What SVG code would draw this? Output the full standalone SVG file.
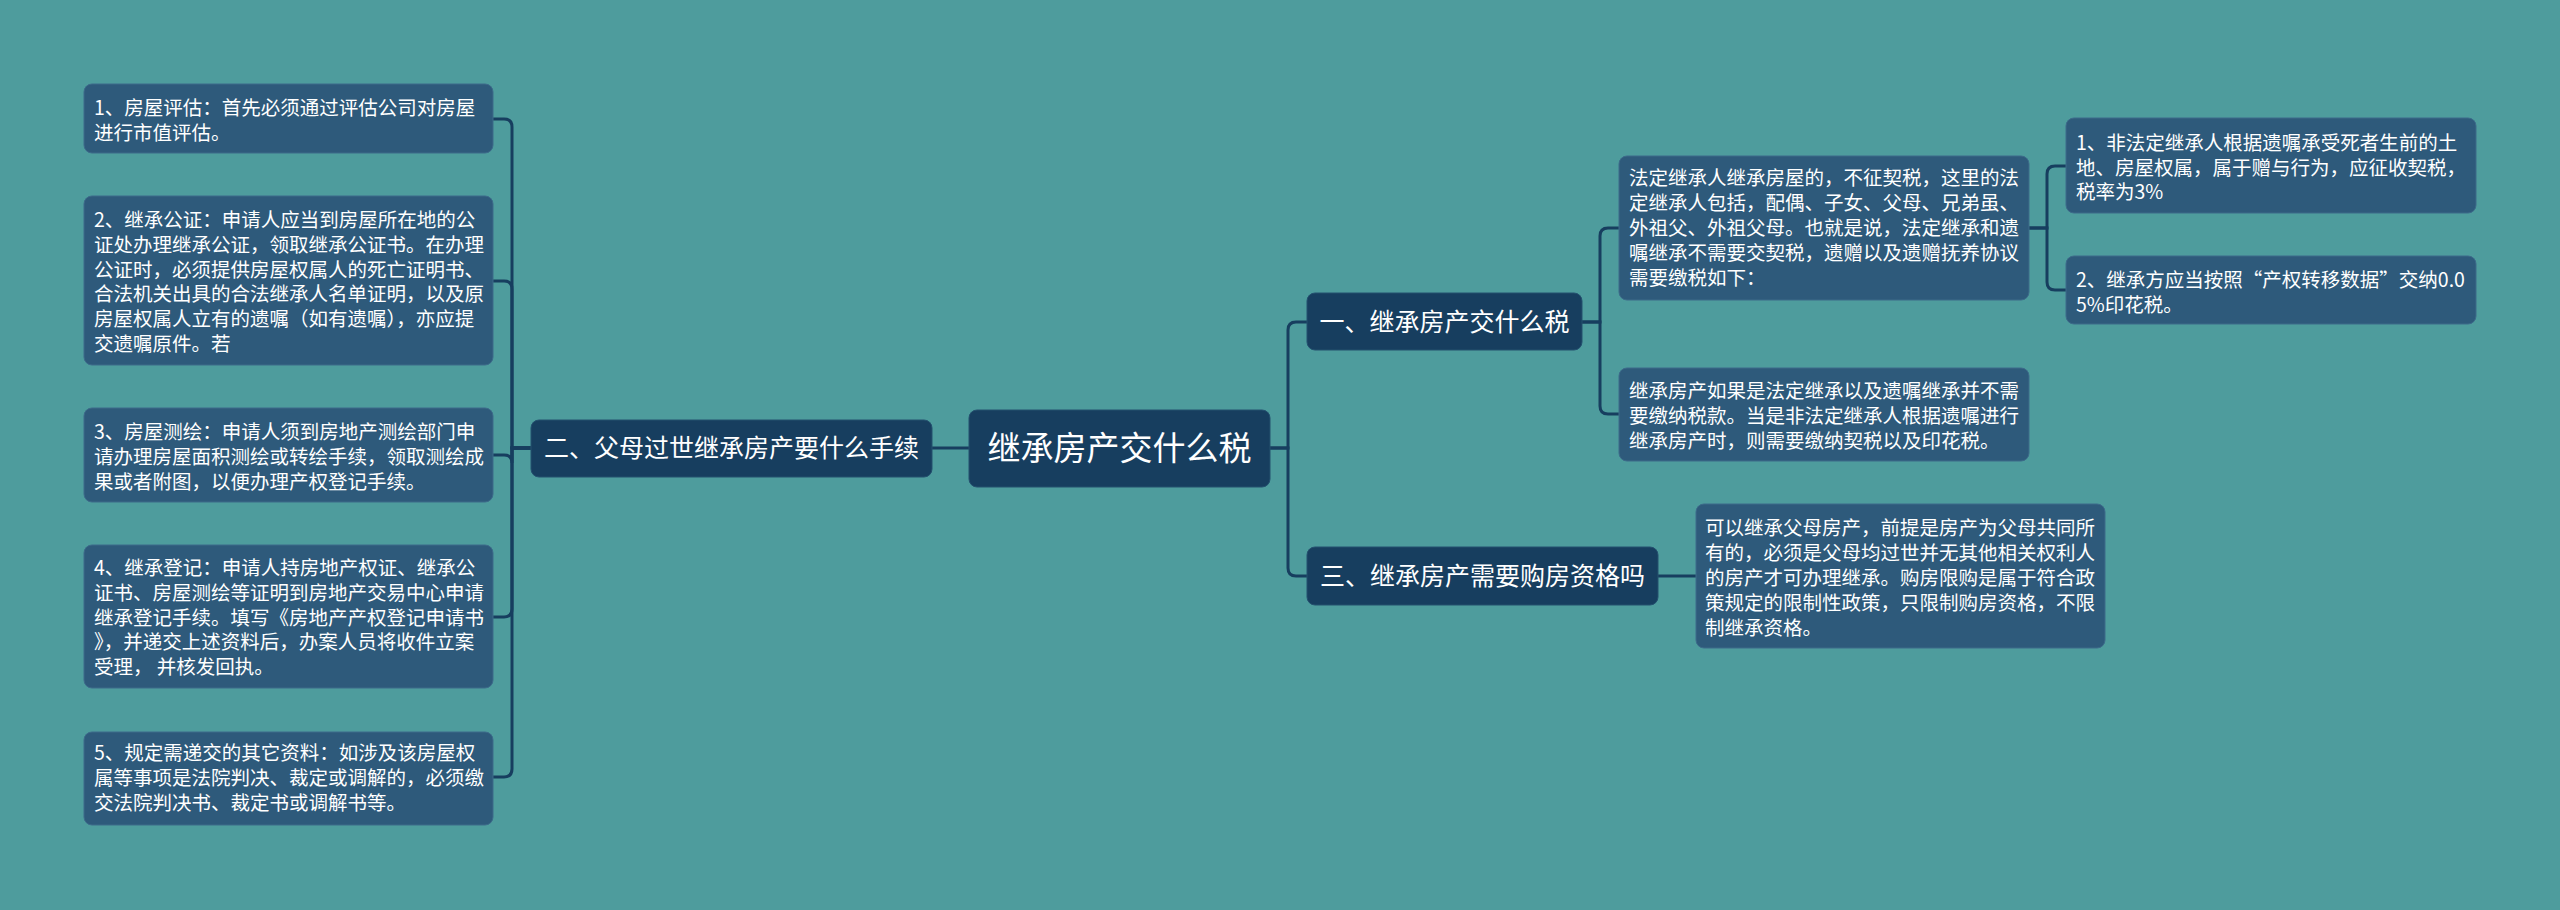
<svg xmlns="http://www.w3.org/2000/svg" width="2560" height="910" viewBox="0 0 2560 910">
<style>
.bg{fill:#4e9c9d}
.leaf{fill:#2e5a7b;stroke:#3d6a8a;stroke-width:1}
.br{fill:#173e5f;stroke:#24506f;stroke-width:1}
.lt{font-family:"Noto Sans CJK SC","Noto Sans",sans-serif;font-size:19.5px;fill:#ffffff}
.bt{font-family:"Noto Sans CJK SC","Noto Sans",sans-serif;font-size:25px;fill:#ffffff;text-anchor:middle}
.ct{font-family:"Noto Sans CJK SC","Noto Sans",sans-serif;font-size:33px;fill:#ffffff;text-anchor:middle}
.ln{fill:none;stroke:#173e5f;stroke-width:3}
</style>
<rect class="bg" x="0" y="0" width="2560" height="910"/>
<g id="connectors">
<path class="ln" d="M531 448 H512 V127 Q512 119 504 119 H493"/>
<path class="ln" d="M531 448 H512 V289 Q512 281 504 281 H493"/>
<path class="ln" d="M531 448 H512 V463 Q512 455 504 455 H493"/>
<path class="ln" d="M531 448 H512 V609 Q512 617 504 617 H493"/>
<path class="ln" d="M531 448 H512 V769 Q512 777 504 777 H493"/>
<path class="ln" d="M932 448 H969"/>
<path class="ln" d="M1270 448 H1288 V330 Q1288 322 1296 322 H1307"/>
<path class="ln" d="M1270 448 H1288 V568 Q1288 576 1296 576 H1307"/>
<path class="ln" d="M1582 322 H1600 V236 Q1600 228 1608 228 H1619"/>
<path class="ln" d="M1582 322 H1600 V406 Q1600 414 1608 414 H1619"/>
<path class="ln" d="M2029 228 H2047 V174 Q2047 166 2055 166 H2066"/>
<path class="ln" d="M2029 228 H2047 V282 Q2047 290 2055 290 H2066"/>
<path class="ln" d="M1658 576 H1696"/>
</g>
<g id="central">
<rect class="br" x="969" y="410" width="301" height="77" rx="8"/>
<text class="ct" x="1119.5" y="460">继承房产交什么税</text>
</g>
<g id="branch2">
<rect class="br" x="531" y="420" width="401" height="57" rx="8"/>
<text class="bt" x="731.5" y="457">二、父母过世继承房产要什么手续</text>
</g>
<g id="branch1">
<rect class="br" x="1307" y="293" width="275" height="57" rx="8"/>
<text class="bt" x="1444.5" y="331">一、继承房产交什么税</text>
</g>
<g id="branch3">
<rect class="br" x="1307" y="547" width="351" height="58" rx="8"/>
<text class="bt" x="1482.5" y="585">三、继承房产需要购房资格吗</text>
</g>
<g id="leaf-l1">
<rect class="leaf" x="84" y="84" width="409" height="69" rx="8"/>
<text class="lt" x="94" y="115"><tspan x="94">1、房屋评估：首先必须通过评估公司对房屋</tspan><tspan x="94" dy="25">进行市值评估。</tspan></text>
</g>
<g id="leaf-l2">
<rect class="leaf" x="84" y="196" width="409" height="169" rx="8"/>
<text class="lt" x="94" y="227"><tspan x="94">2、继承公证：申请人应当到房屋所在地的公</tspan><tspan x="94" dy="24.8">证处办理继承公证，领取继承公证书。在办理</tspan><tspan x="94" dy="24.8">公证时，必须提供房屋权属人的死亡证明书、</tspan><tspan x="94" dy="24.8">合法机关出具的合法继承人名单证明，以及原</tspan><tspan x="94" dy="24.8">房屋权属人立有的遗嘱（如有遗嘱），亦应提</tspan><tspan x="94" dy="24.8">交遗嘱原件。若</tspan></text>
</g>
<g id="leaf-l3">
<rect class="leaf" x="84" y="408" width="409" height="94" rx="8"/>
<text class="lt" x="94" y="439"><tspan x="94">3、房屋测绘：申请人须到房地产测绘部门申</tspan><tspan x="94" dy="24.8">请办理房屋面积测绘或转绘手续，领取测绘成</tspan><tspan x="94" dy="24.8">果或者附图，以便办理产权登记手续。</tspan></text>
</g>
<g id="leaf-l4">
<rect class="leaf" x="84" y="545" width="409" height="143" rx="8"/>
<text class="lt" x="94" y="575"><tspan x="94">4、继承登记：申请人持房地产权证、继承公</tspan><tspan x="94" dy="24.8">证书、房屋测绘等证明到房地产交易中心申请</tspan><tspan x="94" dy="24.8">继承登记手续。填写《房地产产权登记申请书</tspan><tspan x="94" dy="24.8">》，并递交上述资料后，办案人员将收件立案</tspan><tspan x="94" dy="24.8">受理， 并核发回执。</tspan></text>
</g>
<g id="leaf-l5">
<rect class="leaf" x="84" y="732" width="409" height="93" rx="8"/>
<text class="lt" x="94" y="760"><tspan x="94">5、规定需递交的其它资料：如涉及该房屋权</tspan><tspan x="94" dy="24.8">属等事项是法院判决、裁定或调解的，必须缴</tspan><tspan x="94" dy="24.8">交法院判决书、裁定书或调解书等。</tspan></text>
</g>
<g id="leaf-a">
<rect class="leaf" x="1619" y="156" width="410" height="144" rx="8"/>
<text class="lt" x="1629" y="185"><tspan x="1629">法定继承人继承房屋的，不征契税，这里的法</tspan><tspan x="1629" dy="25">定继承人包括，配偶、子女、父母、兄弟虽、</tspan><tspan x="1629" dy="25">外祖父、外祖父母。也就是说，法定继承和遗</tspan><tspan x="1629" dy="25">嘱继承不需要交契税，遗赠以及遗赠抚养协议</tspan><tspan x="1629" dy="25">需要缴税如下：</tspan></text>
</g>
<g id="leaf-b">
<rect class="leaf" x="1619" y="368" width="410" height="93" rx="8"/>
<text class="lt" x="1629" y="398"><tspan x="1629">继承房产如果是法定继承以及遗嘱继承并不需</tspan><tspan x="1629" dy="25">要缴纳税款。当是非法定继承人根据遗嘱进行</tspan><tspan x="1629" dy="25">继承房产时，则需要缴纳契税以及印花税。</tspan></text>
</g>
<g id="leaf-a1">
<rect class="leaf" x="2066" y="118" width="410" height="95" rx="8"/>
<text class="lt" x="2076" y="150"><tspan x="2076">1、非法定继承人根据遗嘱承受死者生前的土</tspan><tspan x="2076" dy="24.5">地、房屋权属，属于赠与行为，应征收契税，</tspan><tspan x="2076" dy="24.5">税率为3%</tspan></text>
</g>
<g id="leaf-a2">
<rect class="leaf" x="2066" y="256" width="410" height="68" rx="8"/>
<text class="lt" x="2076" y="287"><tspan x="2076">2、继承方应当按照“产权转移数据”交纳0.0</tspan><tspan x="2076" dy="25">5%印花税。</tspan></text>
</g>
<g id="leaf-c">
<rect class="leaf" x="1696" y="504" width="409" height="144" rx="8"/>
<text class="lt" x="1705" y="535"><tspan x="1705">可以继承父母房产，前提是房产为父母共同所</tspan><tspan x="1705" dy="25">有的，必须是父母均过世并无其他相关权利人</tspan><tspan x="1705" dy="25">的房产才可办理继承。购房限购是属于符合政</tspan><tspan x="1705" dy="25">策规定的限制性政策，只限制购房资格，不限</tspan><tspan x="1705" dy="25">制继承资格。</tspan></text>
</g>
</svg>
